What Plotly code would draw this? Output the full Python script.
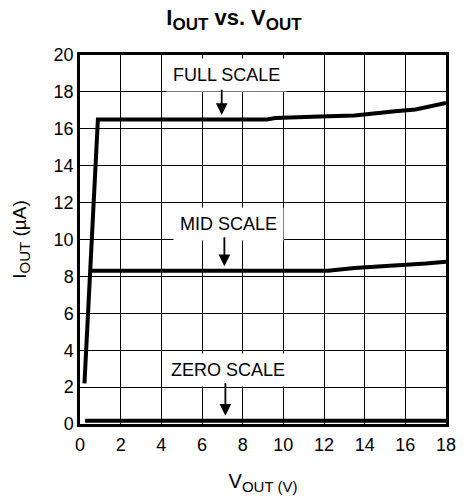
import plotly.graph_objects as go

full_x = [0.22, 0.88, 2, 4, 6, 8, 9.2, 9.6, 11.2, 11.8, 13.5, 14.5, 15.5, 16.5, 17.2, 18]
full_y = [2.2, 16.5, 16.5, 16.5, 16.5, 16.5, 16.5, 16.58, 16.6, 16.66, 16.72, 16.85, 16.95, 17.05, 17.2, 17.4]

mid_x = [0.55, 2, 4, 6, 8, 10, 12.2, 13.5, 14.5, 16, 17, 18]
mid_y = [8.3, 8.3, 8.3, 8.3, 8.3, 8.3, 8.3, 8.45, 8.52, 8.6, 8.7, 8.8]

zero_x = [0.25, 18]
zero_y = [0.18, 0.18]

labels = ["FULL SCALE", "MID SCALE", "ZERO SCALE"]
label_x = [7.2, 7.3, 7.3]
label_y = [18.9, 10.85, 2.95]
arrow_x = [6.97, 7.1, 7.15]
arrow_tail = [18.2, 10.2, 2.3]
arrow_head = [16.75, 8.55, 0.45]

FONT = "Arial, Liberation Sans, sans-serif"

fig = go.Figure()
for xs, ys in [(full_x, full_y), (mid_x, mid_y), (zero_x, zero_y)]:
    fig.add_trace(go.Scatter(x=xs, y=ys, mode="lines",
                             line=dict(color="black", width=4),
                             showlegend=False, hoverinfo="skip"))

for t, lx, ly in zip(labels, label_x, label_y):
    fig.add_annotation(x=lx, y=ly, text=t, showarrow=False,
                       font=dict(family=FONT, size=18, color="black"),
                       bgcolor="white", borderpad=6)
for ax_, tail, head in zip(arrow_x, arrow_tail, arrow_head):
    fig.add_annotation(x=ax_, y=head, ax=ax_, ay=tail, axref="x", ayref="y",
                       xref="x", yref="y", text="", showarrow=True,
                       arrowhead=2, arrowsize=1.3, arrowwidth=1.8, arrowcolor="black")

axis_common = dict(showgrid=True, gridcolor="black", gridwidth=1.4,
                   showline=True, linecolor="black", linewidth=2.5, mirror=True,
                   zeroline=False, ticks="", dtick=2,
                   tickfont=dict(family=FONT, size=18, color="black"))

fig.update_xaxes(range=[0, 18], tick0=0, ticklabelstandoff=3,
                 title=dict(text='V<sub><span style="font-size:15px">OUT (V)</span></sub>', standoff=20,
                            font=dict(family=FONT, size=20, color="black")),
                 **axis_common)
fig.update_yaxes(range=[0, 20], tick0=0,
                 title=dict(text='I<sub><span style="font-size:15px">OUT</span></sub> (µA)', standoff=22,
                            font=dict(family=FONT, size=19, color="black")),
                 **axis_common)

fig.update_layout(
    width=468, height=501,
    margin=dict(l=80, r=13, t=55, b=73),
    paper_bgcolor="white", plot_bgcolor="white",
    title=dict(text='<b>I<sub><span style="font-size:17px">OUT</span></sub> vs. V<sub><span style="font-size:17px">OUT</span></sub></b>',
               x=0.5, xref="container", y=0.965, yanchor="middle",
               font=dict(family=FONT, size=22, color="black")),
)

fig.write_html("out.html")
